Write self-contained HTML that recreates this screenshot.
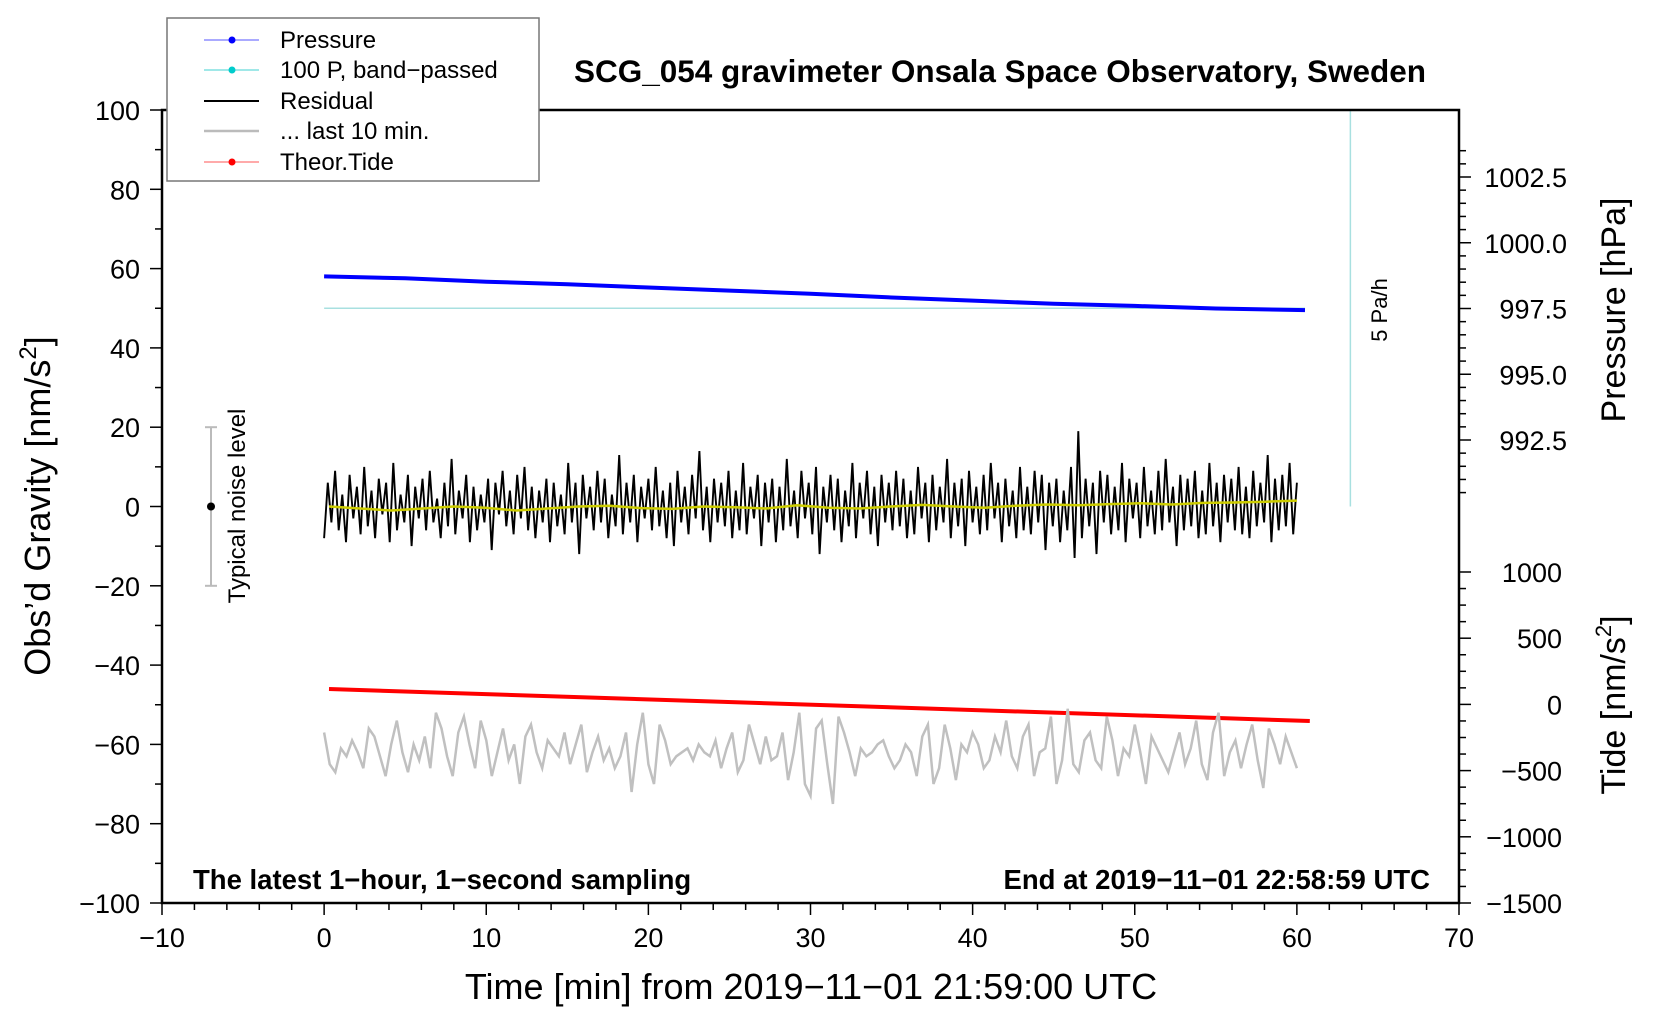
<!DOCTYPE html>
<html><head><meta charset="utf-8">
<style>
html,body{margin:0;padding:0;background:#fff;}
svg{display:block;font-family:"Liberation Sans",Arial,sans-serif;}
</style></head>
<body>
<svg id="chart" width="1660" height="1020" viewBox="0 0 1660 1020" xmlns="http://www.w3.org/2000/svg">
<rect x="0" y="0" width="1660" height="1020" fill="#fff"/>
<g id="plot"></g>
<g id="axes"></g>
<text x="1000" y="82" font-size="31.5" font-weight="bold" text-anchor="middle">SCG_054 gravimeter Onsala Space Observatory, Sweden</text>
<text x="811" y="999" font-size="36" text-anchor="middle">Time [min] from 2019−11−01 21:59:00 UTC</text>
<text transform="translate(50,506) rotate(-90)" font-size="36" text-anchor="middle">Obs’d Gravity [nm/s<tspan font-size="24" dy="-14">2</tspan><tspan dy="14">]</tspan></text>
<text transform="translate(1625,310) rotate(-90)" font-size="34" text-anchor="middle">Pressure [hPa]</text>
<text transform="translate(1625,705) rotate(-90)" font-size="34" text-anchor="middle">Tide [nm/s<tspan font-size="22" dy="-14">2</tspan><tspan dy="14">]</tspan></text>
<text x="193" y="889" font-size="27.5" font-weight="bold">The latest 1−hour, 1−second sampling</text>
<text x="1430" y="889" font-size="27.5" font-weight="bold" text-anchor="end">End at 2019−11−01 22:58:59 UTC</text>
<text transform="translate(1387,310) rotate(-90)" font-size="22" text-anchor="middle">5 Pa/h</text>
<g id="noise"></g>
<text transform="translate(245,506) rotate(-90)" font-size="24" text-anchor="middle">Typical noise level</text>
<g>
<rect x="167" y="18" width="372" height="163" fill="#fff" stroke="#777" stroke-width="1.5"/>
<g><line x1="204" y1="40" x2="259" y2="40" stroke="#5555ff" stroke-width="1"/><circle cx="232" cy="40" r="3.5" fill="#0000ff"/><text x="280" y="48" font-size="24">Pressure</text></g>
<g><line x1="204" y1="70" x2="259" y2="70" stroke="#40d0d0" stroke-width="1"/><circle cx="232" cy="70" r="3.5" fill="#00cccc"/><text x="280" y="78" font-size="24">100 P, band−passed</text></g>
<g><line x1="204" y1="101" x2="259" y2="101" stroke="#000" stroke-width="2"/><text x="280" y="109" font-size="24">Residual</text></g>
<g><line x1="204" y1="131" x2="259" y2="131" stroke="#bbb" stroke-width="2.5"/><text x="280" y="139" font-size="24">... last 10 min.</text></g>
<g><line x1="204" y1="162" x2="259" y2="162" stroke="#ff5555" stroke-width="1"/><circle cx="232" cy="162" r="3.5" fill="#ff0000"/><text x="280" y="170" font-size="24">Theor.Tide</text></g>
</g>
</svg>
<script>
const pressureTimes=[0,5,10,15,20,25,30,35,40,45,50,55,60.5];
const pressureValues=[998.72,998.65,998.52,998.42,998.30,998.18,998.06,997.92,997.80,997.68,997.60,997.50,997.44];
const tideTimes=[0,60.5];
const tideValues=[116,-125];
const bandpassValue=50;
const residualValues=[-8,6,-4,9,-6,3,-9,8,-3,5,-7,10,-5,4,-8,7,-2,6,-9,11,-6,3,-4,8,-10,5,-3,7,-6,9,-4,2,-8,6,-5,12,-7,4,-3,8,-9,5,-6,3,-4,7,-11,6,-2,9,-5,4,-7,8,-3,10,-6,5,-8,4,-4,7,-9,6,-5,3,-7,11,-4,6,-12,8,-3,5,-6,9,-4,7,-8,3,-5,13,-7,6,-4,8,-9,5,-3,7,-6,10,-5,4,-8,6,-10,9,-4,5,-7,8,-3,14,-6,5,-9,7,-4,6,-5,9,-8,4,-6,11,-7,5,-3,8,-10,6,-4,7,-9,5,-6,12,-5,4,-8,9,-3,6,-7,10,-12,5,-4,8,-6,7,-9,4,-5,11,-8,6,-3,9,-7,5,-10,8,-4,6,-6,9,-5,7,-8,4,-7,10,-3,6,-9,8,-6,5,-4,12,-8,6,-5,7,-10,9,-4,5,-7,8,-6,11,-3,6,-9,7,-5,4,-8,10,-6,5,-7,9,-4,8,-11,6,-5,7,-9,4,-6,10,-13,19,-8,7,-5,6,-12,9,-4,8,-7,5,-6,11,-9,7,-3,6,-8,10,-5,4,-7,9,-6,12,-4,5,-10,8,-6,7,-5,9,-8,4,-7,11,-5,6,-9,8,-4,7,-6,10,-7,5,-8,9,-5,6,-4,13,-9,7,-6,8,-5,11,-7,6];
const smoothValues=[0,-0.5,-1,-0.5,0,-0.3,-1,-0.5,0,0.2,-0.4,-0.6,0,-0.2,-0.5,0.3,-0.3,-0.5,0,0.4,0,-0.3,0.2,0.5,0.3,0.6,0.8,0.5,0.9,1.0,1.2,1.5];
const lastTenValues=[-57,-65,-67,-61,-63,-59,-62,-66,-56,-58,-63,-68,-60,-54,-62,-67,-60,-64,-58,-66,-52,-56,-63,-68,-57,-53,-60,-66,-54,-59,-68,-62,-56,-64,-60,-70,-58,-55,-62,-66,-59,-61,-63,-57,-65,-60,-55,-67,-62,-58,-64,-61,-66,-63,-57,-72,-60,-52,-65,-70,-55,-59,-65,-63,-62,-61,-64,-60,-62,-63,-59,-66,-61,-57,-67,-64,-55,-60,-65,-58,-64,-63,-57,-69,-62,-52,-70,-73,-56,-54,-65,-75,-53,-57,-62,-68,-61,-63,-62,-60,-59,-63,-66,-64,-60,-62,-68,-58,-55,-70,-66,-55,-61,-69,-60,-62,-57,-60,-66,-64,-58,-62,-54,-63,-66,-58,-55,-68,-62,-61,-53,-70,-64,-51,-65,-67,-59,-57,-64,-66,-53,-59,-68,-61,-63,-55,-62,-70,-58,-61,-64,-67,-62,-57,-65,-61,-54,-65,-69,-57,-52,-68,-62,-59,-66,-60,-55,-64,-71,-56,-60,-65,-58,-62,-66];
const xTicks=[-10,0,10,20,30,40,50,60,70];
const yTicks=[100,80,60,40,20,0,-20,-40,-60,-80,-100];
const pTicks=[1002.5,1000.0,997.5,995.0,992.5];
const tTicks=[1000,500,0,-500,-1000,-1500];

const L=162,R=1459,T=110,B=903;
const X=v=>L+(v+10)*(R-L)/80;
const Y=v=>T+(100-v)*(B-T)/200;
const YP=v=>177+(1002.5-v)*26.3;
const YT=v=>B-(v+1500)*331/2500;
const NS="http://www.w3.org/2000/svg";
function mk(tag,attrs,parent){const e=document.createElementNS(NS,tag);for(const k in attrs)e.setAttribute(k,attrs[k]);parent.appendChild(e);return e;}
const plot=document.getElementById('plot'),axes=document.getElementById('axes');

let bp=mk('line',{x1:X(0),x2:X(60.5),y1:Y(bandpassValue),y2:Y(bandpassValue),stroke:'#a8e0e0','stroke-width':1.5},plot);


let vl=mk('line',{x1:X(63.3),x2:X(63.3),y1:Y(100),y2:Y(0),stroke:'#a8e0e0','stroke-width':1.5},plot);



let pd=pressureTimes.map((t,i)=>(i?'L':'M')+X(t).toFixed(1)+','+YP(pressureValues[i]).toFixed(1)).join('');
let pl=mk('path',{d:pd,fill:'none',stroke:'#0000ff','stroke-width':4},plot);



let n=residualValues.length;
let rd=residualValues.map((v,i)=>(i?'L':'M')+X(60*i/(n-1)).toFixed(1)+','+Y(v).toFixed(1)).join('');
let rl=mk('path',{d:rd,fill:'none',stroke:'#000','stroke-width':1.9},plot);


let m=smoothValues.length;
let sd=smoothValues.map((v,i)=>(i?'L':'M')+X(0.3+59.7*i/(m-1)).toFixed(1)+','+Y(v).toFixed(1)).join('');
let sl=mk('path',{d:sd,fill:'none',stroke:'#cccc00','stroke-width':2.5},plot);



let td=tideTimes.map((t,i)=>(i?'L':'M')+X(t+0.3).toFixed(1)+','+YT(tideValues[i]).toFixed(1)).join('');
let tl=mk('path',{d:td,fill:'none',stroke:'#ff0000','stroke-width':4},plot);



let k=lastTenValues.length;
let gd=lastTenValues.map((v,i)=>(i?'L':'M')+X(60*i/(k-1)).toFixed(1)+','+Y(v).toFixed(1)).join('');
let gl=mk('path',{d:gd,fill:'none',stroke:'#c0c0c0','stroke-width':2.5},plot);



const nz=document.getElementById('noise');
mk('line',{x1:211,x2:211,y1:Y(20),y2:Y(-20),stroke:'#bbb','stroke-width':2},nz);
mk('line',{x1:205,x2:217,y1:Y(20),y2:Y(20),stroke:'#bbb','stroke-width':2},nz);
mk('line',{x1:205,x2:217,y1:Y(-20),y2:Y(-20),stroke:'#bbb','stroke-width':2},nz);
mk('circle',{cx:211,cy:Y(0),r:4,fill:'#000'},nz);

let fr=mk('rect',{x:L,y:T,width:R-L,height:B-T,fill:'none',stroke:'#000','stroke-width':2.5},axes);


for(let v=-10;v<=70;v+=2){const maj=v%10===0;mk('line',{x1:X(v),x2:X(v),y1:B,y2:B+(maj?12:7),stroke:'#000','stroke-width':1.5},axes);}
xTicks.forEach(v=>{let t=mk('text',{x:X(v),y:B+44,'font-size':27,'text-anchor':'middle'},axes);t.textContent=(v<0?'−':'')+Math.abs(v);

});
for(let v=-100;v<=100;v+=10){const maj=v%20===0;mk('line',{x1:L,x2:L-(maj?12:7),y1:Y(v),y2:Y(v),stroke:'#000','stroke-width':1.5},axes);}
yTicks.forEach(v=>{let t=mk('text',{x:L-22,y:Y(v)+10,'font-size':27,'text-anchor':'end'},axes);t.textContent=(v<0?'−':'')+Math.abs(v);

});
for(let v=1003.5;v>=990.5;v-=0.5){const y=YP(v);if(y<T||y>B)continue;const maj=Math.abs(v%2.5)<1e-6;mk('line',{x1:R,x2:R+(maj?12:7),y1:y,y2:y,stroke:'#000','stroke-width':1.5},axes);}
pTicks.forEach(v=>{let t=mk('text',{x:1567,y:YP(v)+10,'font-size':27,'text-anchor':'end'},axes);t.textContent=v.toFixed(1);

});
for(let v=-1500;v<=1000;v+=125){const maj=v%500===0;mk('line',{x1:R,x2:R+(maj?12:7),y1:YT(v),y2:YT(v),stroke:'#000','stroke-width':1.5},axes);}
tTicks.forEach(v=>{let t=mk('text',{x:1562,y:YT(v)+10,'font-size':27,'text-anchor':'end'},axes);t.textContent=(v<0?'−':'')+Math.abs(v);

});
</script>
</body></html>
